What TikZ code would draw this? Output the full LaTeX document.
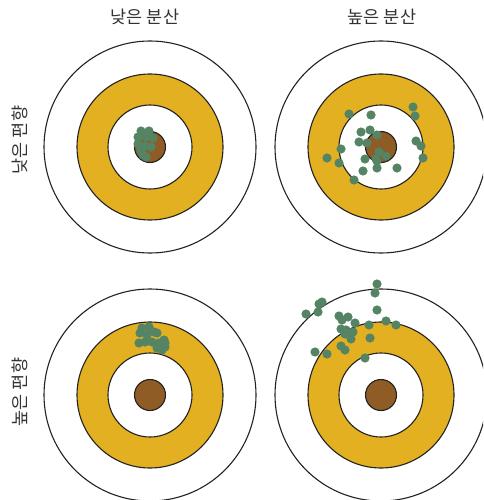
\documentclass[tikz,border=0pt]{standalone}
\usepackage{fontspec}
\newfontfamily\kr{Noto Sans CJK KR}
\definecolor{ringgold}{HTML}{E3B022}
\definecolor{bullbrown}{HTML}{8E5C24}
\definecolor{dotgreen}{HTML}{558465}
\definecolor{linegray}{HTML}{222222}
\definecolor{textgray}{HTML}{333333}
\tikzset{
  ringline/.style={draw=linegray, line width=1.1pt},
  hit/.style={fill=dotgreen, draw=none},
  lbl/.style={font=\kr\fontsize{17.5}{20}\selectfont, text=textgray, inner sep=0pt},
}
\newcommand{\target}[1]{%
  \fill[white, ringline] (#1) circle (106);
  \fill[ringgold, ringline] (#1) circle (73);
  \fill[white, ringline] (#1) circle (42);
  \fill[bullbrown, ringline] (#1) circle (15.5);
}
\newcommand{\hits}[1]{\foreach \p in {#1} {\fill[hit] (\p) circle (4.6);}}
\begin{document}
\begin{tikzpicture}[x=1pt,y=-1pt]
\useasboundingbox (0,0) rectangle (483,500);
\begin{scope}
\clip (0,0) rectangle (483,500);
\coordinate (TL) at (150,147);
\coordinate (TR) at (381,147);
\coordinate (BL) at (150,395);
\coordinate (BR) at (381,395);
\target{TL}
\target{TR}
\target{BL}
\target{BR}
% low bias, low variance
\hits{{141,131},{149,131},{138,137},{146,137},{153,138},{138,144},{145,146},{151,147},{141,151},{146,157},{143,155}}
% low bias, high variance
\hits{{349,114},{371,115},{413,107},{415,116},{361,132},{370,130},{377,135},{359,142},{367,143},{416,141},{421,146},{341,149},{327,158},{339,163},{365,159},{376,159},{379,152},{386,156},{377,161},{423,158},{363,171},{377,168},{397,168},{354,180}}
% high bias, low variance
\hits{{142,328},{149,327},{140,333},{147,335},{154,332},{157,333},{145,342},{139,343},{152,342},{159,343},{164,340},{165,343},{157,348},{162,350},{165,347}}
% high bias, high variance
\hits{{377,284},{375,293},{322,302},{319,304},{306,314},{318,312},{377,310},{339,316},{348,317},{342,320},{355,323},{369,325},{386,321},{396,325},{341,329},{346,330},{353,332},{345,334},{351,339},{370,338},{341,346},{345,350},{315,352},{327,354},{365,358}}
\end{scope}
\node[lbl] (c1) at (145,17) {낮은 분산};
\node[lbl] (c2) at (382,17) {높은 분산};
\node[lbl, rotate=90] (r1) at (20,140) {낮은 편향};
\node[lbl, rotate=90] (r2) at (20,392) {높은 편향};
\end{tikzpicture}
\end{document}
